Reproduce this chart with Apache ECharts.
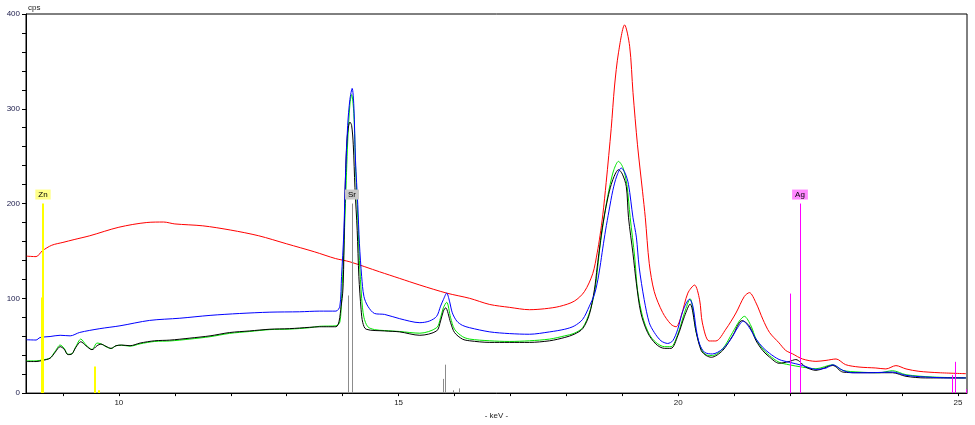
<!DOCTYPE html>
<html><head><meta charset="utf-8">
<script src="https://cdn.jsdelivr.net/npm/echarts@6/dist/echarts.min.js"></script>
<style>html,body{margin:0;padding:0;background:#fff}#c{width:975px;height:425px}</style>
</head><body><div id="c"></div>
<script>
// ---------- data ----------
const redKeV = [8.35,8.52,8.63,8.80,9.00,9.20,9.48,10.0,10.5,10.8,11.0,11.5,12.0,12.5,13.0,13.5,13.87,14.13,14.66,15.02,15.38,15.86,16.27,16.63,16.98,17.34,17.61,17.88,18.14,18.32,18.47,18.55,18.60,18.65,18.71,18.80,18.86,18.93,19.04,19.13,19.19,19.27,19.36,19.41,19.48,19.57,19.72,19.87,19.96,20.05,20.17,20.29,20.38,20.43,20.55,20.67,20.85,21.03,21.18,21.27,21.39,21.51,21.63,21.80,21.92,22.04,22.22,22.46,22.64,22.82,22.99,23.23,23.53,23.71,23.89,24.07,24.30,24.66,25.14];
const redCps = [144.5,144,150,156,159,162,166,175,180,180.5,178.5,176.5,172,166,157.5,149,142,138.5,128,121,114,105.5,100,93.5,90.5,88,89,91.5,97,107,126,148,166,188,222,279,324,359,388.5,366,317,262,213,185,137,107,85,72.5,70,81,105.5,114,98.5,74,55,55,67.5,84.5,102,106,95,78,64,53,45,41.5,36,33.5,34.5,36,30,27.5,26.5,25.5,29,25.5,23,21.5,20.5];

const blueKeV = [8.35,8.52,8.59,8.77,8.95,9.13,9.30,9.66,10.02,10.55,11.09,11.63,12.16,12.70,13.23,13.59,13.88,13.95,13.98,14.02,14.05,14.09,14.13,14.17,14.20,14.23,14.27,14.30,14.34,14.38,14.45,14.57,14.75,15.02,15.38,15.55,15.68,15.75,15.80,15.86,15.91,15.96,16.04,16.14,16.27,16.63,16.98,17.34,17.70,17.97,18.14,18.29,18.41,18.50,18.55,18.60,18.65,18.70,18.76,18.83,18.90,18.98,19.05,19.11,19.19,19.25,19.30,19.39,19.48,19.57,19.69,19.81,19.90,19.99,20.08,20.20,20.26,20.32,20.38,20.47,20.61,20.79,20.94,21.06,21.16,21.27,21.39,21.51,21.63,21.80,21.98,22.22,22.46,22.64,22.76,22.94,23.11,23.41,23.83,24.07,24.42,24.90,25.14];
const blueCps = [56.3,56,58.6,59.7,61,60.4,64,68,71,76.7,79,82,84,85.4,85.8,86.5,86.5,91.7,123,168,227,282.6,310,321.5,303,245,199,157.6,123,102,91.7,84,83,78.5,74.3,76,81,91.7,98.6,105.5,97,84.7,76,71.5,69,64.6,62.8,62.1,64.6,67.4,70.8,77.8,91.7,104,116,133,153,172,192,214,229,237.5,232,220,185,164.6,133,98.6,74.3,64,55.2,52.4,55.2,67.4,86.5,99,91.7,67.4,51.7,43,41.3,46.5,57,69,76,69,57,48.2,42,35.5,32.6,29.2,25,26.4,29.9,24,21.5,21.5,22.2,18.75,17,16,16];

const greenKeV = [8.35,8.52,8.63,8.77,8.86,8.95,9.02,9.09,9.16,9.23,9.32,9.41,9.52,9.61,9.68,9.77,9.86,9.95,10.05,10.20,10.38,10.64,10.91,11.27,11.63,11.98,12.34,12.70,13.05,13.41,13.59,13.88,13.95,13.98,14.02,14.05,14.09,14.13,14.16,14.20,14.23,14.27,14.30,14.34,14.38,14.45,14.57,14.75,15.02,15.38,15.68,15.75,15.80,15.86,15.93,16.00,16.14,16.27,16.63,16.98,17.34,17.70,17.97,18.14,18.29,18.41,18.50,18.55,18.59,18.64,18.70,18.78,18.85,18.93,19.01,19.08,19.14,19.22,19.27,19.36,19.48,19.60,19.75,19.87,19.99,20.11,20.21,20.32,20.41,20.50,20.61,20.79,20.97,21.09,21.18,21.30,21.39,21.51,21.63,21.80,21.98,22.22,22.46,22.76,22.94,23.23,23.59,23.83,24.07,24.54,25.14];
const greenCps = [34,34,35,37,44,50.7,47.5,41,41.5,49,57,51,46,52.8,52,49,47,50,50.5,49.5,52,54.5,55,57,59.5,63,65,67,67.5,69,70.5,71,75,100,150,200,265,305,315,295,240,185,140,100,80,70,67,66,65,63.2,69,79.5,90,95.8,79.5,67.4,59.7,57,55.2,54.5,55.2,57,60.4,63.2,69,84.7,105.5,128,150,172,195,220,236,244.5,238,220,185,143.7,109,81,62.1,53.5,49,49,62,84.7,99.5,64,46.5,40.3,39.6,46.5,64,76,81,70.8,57,46.5,39.6,32.6,29.9,27.4,25.7,29.9,24,22.2,21.5,23.6,19.4,17,16];

const blackKeV = [8.35,8.52,8.63,8.77,8.86,8.95,9.02,9.09,9.16,9.23,9.32,9.41,9.52,9.61,9.68,9.77,9.86,9.95,10.05,10.20,10.38,10.64,10.91,11.27,11.63,11.98,12.34,12.70,13.05,13.41,13.59,13.88,13.98,14.01,14.03,14.05,14.08,14.13,14.16,14.19,14.22,14.26,14.29,14.33,14.36,14.42,14.75,15.02,15.38,15.68,15.75,15.80,15.84,15.93,16.00,16.14,16.27,16.63,16.98,17.34,17.70,17.97,18.14,18.29,18.41,18.50,18.55,18.59,18.63,18.68,18.74,18.80,18.87,18.93,19.00,19.07,19.11,19.19,19.25,19.33,19.45,19.60,19.75,19.87,19.99,20.11,20.21,20.32,20.41,20.50,20.59,20.79,20.97,21.14,21.27,21.39,21.51,21.63,21.80,21.98,22.10,22.28,22.46,22.76,22.94,23.23,23.83,24.07,24.42,25.14];
const blackCps = [33.3,33.3,34.4,36.8,43,49,46.5,40.6,41.3,48.2,54.2,50,45.8,50,51.7,49.3,47.2,50,50.7,50,52.8,55.2,55.9,58,60.4,63.9,65.6,67.4,68,69.4,70,70,95,116,175,227,269,286,282.6,262,216.7,171.5,123,88,74.3,67.4,65.6,64.6,61,65.6,76,86.5,90,74.3,63.9,57,55.2,53.5,53.5,53.5,55.2,58.7,62.1,68,83,109,133,152,170,188,206,220,231,235.7,231,218,185,147,116,84.7,64,51.7,47.2,47.2,60.4,81,94,64,44.8,39.6,37.8,44.8,60.4,76.5,70.8,55.2,44.8,38,31.5,33.3,35.4,27.4,24,29.2,22.2,21.5,21.5,17.7,16,16];

// element marker lines
const znKeV = [8.62, 8.638, 9.572, 9.65];
const znCps = [101, 200, 28, 3];
const srKeV = [14.098, 14.165, 15.80, 15.83, 15.97, 16.08];
const srCps = [103, 200, 15, 30, 3, 5];
const agKeV = [21.99, 22.175, 24.90, 24.94, 25.14];
const agCps = [105, 200, 19, 33, 4];
const elemNames = ['Zn', 'Sr', 'Ag'];

// axis ticks / labels
const xTickValues = [9,10,11,12,13,14,15,16,17,18,19,20,21,22,23,24,25];
const xLabelValues = [10,15,20,25];
const yLabelValues = [0,100,200,300,400];

// ---------- styles ----------
const FONT = '"Liberation Sans", Arial, sans-serif';
const elemStyle = {
  Zn: { line: '#ffff00', box: '#ffff88', width: 2 },
  Sr: { line: '#8c8c8c', box: '#c8c8c8', width: 1 },
  Ag: { line: '#ff00ff', box: '#ff88ff', width: 1 }
};

const pairs = (xs, ys) => xs.map((x, i) => [x, ys[i]]);
const elemKeV = { Zn: znKeV, Sr: srKeV, Ag: agKeV };
const elemCps = { Zn: znCps, Sr: srCps, Ag: agCps };

// one flat table: [keV, cps, elementIndex]
const elemLineData = [];
elemNames.forEach((n, ei) => elemKeV[n].forEach((k, i) => elemLineData.push([k, elemCps[n][i], ei])));

// label anchor = tallest line of each element
const labelData = elemNames.map((n, ei) => {
  let bi = 0;
  elemCps[n].forEach((v, i) => { if (v > elemCps[n][bi]) bi = i; });
  return [elemKeV[n][bi], elemCps[n][bi], ei];
});

const spectrum = (name, xs, ys, color, z) => ({
  name, type: 'line', data: pairs(xs, ys), showSymbol: false, symbol: 'none',
  smooth: 0.3, lineStyle: { color, width: 1 }, z, animation: false, silent: true
});

const series = [
  spectrum('red', redKeV, redCps, '#ff0000', 2),
  spectrum('green', greenKeV, greenCps, '#00e600', 3),
  spectrum('black', blackKeV, blackCps, '#000000', 4),
  spectrum('blue', blueKeV, blueCps, '#0000ff', 5),
  {
    type: 'custom', name: 'elementLines', data: elemLineData, z: 6, animation: false, silent: true,
    encode: { x: 0, y: 1 },
    renderItem: function (params, api) {
      const st = elemStyle[elemNames[api.value(2)]];
      const p = api.coord([api.value(0), api.value(1)]);
      const b = api.coord([api.value(0), 0]);
      const x = Math.round(p[0]) + (st.width % 2 ? 0.5 : 0);
      return { type: 'line', silent: true,
        shape: { x1: x, y1: p[1], x2: x, y2: b[1] },
        style: { stroke: st.line, fill: null, lineWidth: st.width } };
    }
  },
  {
    type: 'custom', name: 'elementLabels', data: labelData, z: 7, animation: false, silent: true,
    encode: { x: 0, y: 1 },
    renderItem: function (params, api) {
      const n = elemNames[api.value(2)];
      const p = api.coord([api.value(0), api.value(1)]);
      return { type: 'text', style: {
        text: n, x: Math.round(p[0]), y: p[1] - 4, align: 'center', verticalAlign: 'bottom',
        fill: '#000', backgroundColor: elemStyle[n].box, padding: [1, 3, 0, 3],
        font: '8px ' + FONT, lineHeight: 9 } };
    }
  }
];

const chart = echarts.init(document.getElementById('c'), null, { renderer: 'canvas' });
chart.setOption({
  animation: false,
  backgroundColor: '#ffffff',
  grid: { left: 26, right: 8, top: 14, bottom: 27, show: true, borderColor: '#000', borderWidth: 1 },
  xAxis: {
    type: 'value', min: 8.34, max: 25.16,
    name: '- keV -', nameLocation: 'middle', nameGap: 15,
    nameTextStyle: { fontSize: 8, fontFamily: FONT, color: '#222' },
    axisLine: { show: true, lineStyle: { color: '#000', width: 1 } },
    axisTick: { show: true, length: 3, customValues: xTickValues, lineStyle: { color: '#000' } },
    axisLabel: { customValues: xLabelValues, margin: 6, fontSize: 8, fontFamily: FONT, color: '#222' },
    splitLine: { show: false }
  },
  yAxis: {
    type: 'value', min: 0, max: 400, interval: 20,
    name: 'cps', nameLocation: 'end', nameGap: 2,
    nameTextStyle: { fontSize: 8, fontFamily: FONT, color: '#222', align: 'left', padding: [0, 0, 0, 2] },
    axisLine: { show: true, lineStyle: { color: '#000', width: 1 } },
    axisTick: { show: true, length: 4, lineStyle: { color: '#000' } },
    axisLabel: { margin: 6, fontSize: 8, fontFamily: FONT, color: '#1a1a4a',
      formatter: v => (yLabelValues.indexOf(v) >= 0 ? String(v) : '') },
    splitLine: { show: false }
  },
  series
});
</script>
</body></html>
